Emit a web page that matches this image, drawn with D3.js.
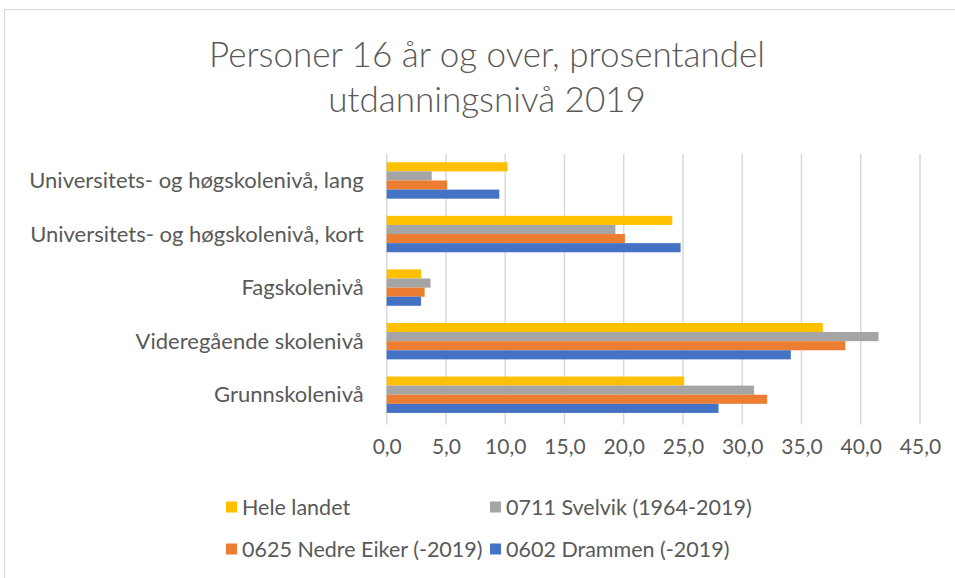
<!DOCTYPE html>
<html>
<head>
<meta charset="utf-8">
<script src="https://cdn.jsdelivr.net/npm/d3@7"></script>
<style>
  body { margin: 0; background: #fff; }
  text { font-family: Lato, "Open Sans", sans-serif; fill: #595959; }
</style>
</head>
<body>
<script>
// data
var categories = ['Universitets- og høgskolenivå, lang', 'Universitets- og høgskolenivå, kort', 'Fagskolenivå', 'Videregående skolenivå', 'Grunnskolenivå'];
var seriesNames = ['Hele landet', '0711 Svelvik (1964-2019)', '0625 Nedre Eiker (-2019)', '0602 Drammen (-2019)'];
var heleLandet = [10.2, 24.1, 2.9, 36.8, 25.1];
var svelvik = [3.8, 19.3, 3.7, 41.5, 31.0];
var nedreEiker = [5.1, 20.1, 3.2, 38.7, 32.1];
var drammen = [9.5, 24.8, 2.9, 34.1, 28.0];
var ticks = [0, 5, 10, 15, 20, 25, 30, 35, 40, 45];
var colors = ['#FFC000', '#A5A5A5', '#ED7D31', '#4472C4'];

var allSeries = [heleLandet, svelvik, nedreEiker, drammen];

var chartProps = {
  width: 955,
  height: 578,
  left: 386.7,
  right: 920,
  top: 153.7,
  bottom: 421.5
}

var svg = d3.select('body').append('svg')
            .attr('width', chartProps.width)
            .attr('height', chartProps.height);

// outer border
svg.append('rect')
   .attr('x', 4.5).attr('y', 9.5)
   .attr('width', 960).attr('height', 580)
   .attr('fill', 'none')
   .attr('stroke', '#d9d9d9');

// title
svg.append('text').attr('x', 487).attr('y', 67)
   .attr('text-anchor', 'middle').style('font-size', '35px').style('font-weight', 300)
   .text('Personer 16 år og over, prosentandel');
svg.append('text').attr('x', 487).attr('y', 112)
   .attr('text-anchor', 'middle').style('font-size', '35px').style('font-weight', 300)
   .text('utdanningsnivå 2019');

var x = d3.scaleLinear().domain([0, 45]).range([chartProps.left, chartProps.right]);
var y = d3.scaleBand().domain(categories).range([chartProps.top, chartProps.bottom]).paddingInner(0.32).paddingOuter(0.16);
var y1 = d3.scaleBand().domain(seriesNames).range([0, y.bandwidth()]);

// gridlines
svg.append('g').selectAll('line').data(ticks)
   .enter().append('line')
   .attr('x1', function(d) { return x(d); })
   .attr('x2', function(d) { return x(d); })
   .attr('y1', chartProps.top)
   .attr('y2', chartProps.bottom + 3)
   .attr('stroke', '#d9d9d9')
   .attr('stroke-width', 1.5);

// bars
var groups = svg.append('g').selectAll('g').data(categories)
   .enter().append('g')
   .attr('transform', function(d) { return 'translate(0,' + y(d) + ')'; });

groups.selectAll('rect')
   .data(function(d, i) { return seriesNames.map(function(s, j) { return {name: s, value: allSeries[j][i], color: colors[j]}; }); })
   .enter().append('rect')
   .attr('x', x(0))
   .attr('y', function(d) { return y1(d.name); })
   .attr('width', function(d) { return x(d.value) - x(0); })
   .attr('height', y1.bandwidth())
   .attr('fill', function(d) { return d.color; });

// category labels
var yAxis = svg.append('g')
   .attr('transform', 'translate(' + (chartProps.left - 23) + ',0)')
   .call(d3.axisLeft(y).tickSize(0).tickPadding(0));
yAxis.select('.domain').remove();
yAxis.selectAll('text').style('font-size', '22px').attr('dy', '0.35em').attr('fill', '#595959');

// value axis labels
var xAxis = svg.append('g')
   .attr('transform', 'translate(0,' + (chartProps.bottom + 18) + ')')
   .call(d3.axisBottom(x).tickValues(ticks).tickSize(0).tickPadding(0)
     .tickFormat(function(d) { return d3.format('.1f')(d).replace('.', ','); }));
xAxis.select('.domain').remove();
xAxis.selectAll('text').style('font-size', '21px').attr('fill', '#595959');

// legend
var legendPos = [[226, 507], [490, 507], [226, 549], [490, 549]];
var legend = svg.append('g').selectAll('g').data(seriesNames)
   .enter().append('g')
   .attr('transform', function(d, i) { return 'translate(' + legendPos[i][0] + ',' + legendPos[i][1] + ')'; });
legend.append('rect')
   .attr('x', 0).attr('y', -5.5).attr('width', 11).attr('height', 11)
   .attr('fill', function(d, i) { return colors[i]; });
legend.append('text')
   .attr('x', 16).attr('dy', '0.35em')
   .style('font-size', '21.5px')
   .text(function(d) { return d; });
</script>
</body>
</html>
